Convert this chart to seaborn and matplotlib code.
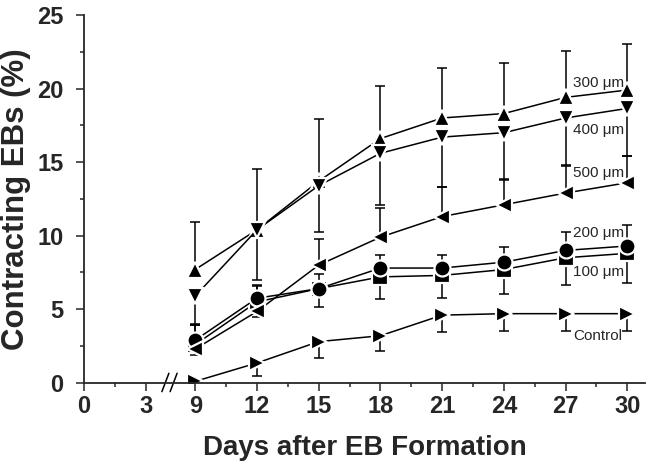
import pandas as pd
import matplotlib
matplotlib.use("Agg")
from matplotlib import pyplot as plt
from matplotlib import transforms
import seaborn as sns

days = [9, 12, 15, 18, 21, 24, 27, 30]
series_names = ["100 μm", "200 μm", "300 μm", "400 μm", "500 μm", "Control"]

um100 = [2.6, 5.5, 6.4, 7.2, 7.3, 7.7, 8.5, 8.8]
um200 = [2.9, 5.75, 6.4, 7.8, 7.8, 8.2, 9.0, 9.3]
um300 = [7.7, 10.4, 13.7, 16.6, 18.0, 18.3, 19.4, 19.9]
um400 = [5.9, 10.4, 13.4, 15.6, 16.7, 17.0, 18.0, 18.65]
um500 = [2.3, 4.85, 8.0, 9.9, 11.3, 12.1, 12.9, 13.6]
control = [0.1, 1.35, 2.8, 3.2, 4.6, 4.7, 4.7, 4.7]

# one-sided error bars (as in the original figure)
err100_low = [0.7, 1.0, 1.25, 1.5, 1.55, 1.65, 1.85, 2.0]
err200_up = [1.0, 0.85, 1.0, 0.9, 0.9, 1.0, 1.25, 1.4]
err300_up = [3.2, 4.1, 4.2, 3.6, 3.4, 3.45, 3.15, 3.1]
err400_low = [1.9, 3.4, 3.15, 3.5, 3.4, 3.2, 3.2, 3.25]
err500_up = [1.6, 1.8, 1.75, 2.0, 2.0, 1.75, 1.85, 1.8]
control_low = [0.0, 0.9, 1.1, 1.05, 1.15, 1.15, 1.15, 1.15]

tick_days = [0, 3, 9, 12, 15, 18, 21, 24, 27, 30]
minor_days = [1.5, 10.5, 13.5, 16.5, 19.5, 22.5, 25.5, 28.5]

label_y = {"300 μm": 20.4, "400 μm": 17.2, "500 μm": 14.25,
           "200 μm": 10.2, "100 μm": 7.5, "Control": 3.2}

BREAK_SHIFT = 3.6  # days 3..9 squeezed together on the axis


def axis_pos(d):
    return d if d <= 3 else d - BREAK_SHIFT


def main():
    sns.set_style("ticks")
    plt.rcParams['font.family'] = ['Liberation Sans Narrow', 'Liberation Sans', 'DejaVu Sans']

    values = [um100, um200, um300, um400, um500, control]
    rows = []
    for name, vals in zip(series_names, values):
        for d, v in zip(days, vals):
            rows.append({"day": axis_pos(d), "pct": v, "group": name})
    df = pd.DataFrame(rows)

    fig = plt.figure(figsize=(6.52, 4.68), dpi=100)
    ax = fig.add_axes([0.129, 0.182, 0.86, 0.786])

    errs = [(err100_low, "low"), (err200_up, "up"), (err300_up, "up"),
            (err400_low, "low"), (err500_up, "up"), (control_low, "low")]
    xs = [axis_pos(d) for d in days]
    for vals, (e, side) in zip(values, errs):
        zeros = [0] * len(e)
        yerr = [e, zeros] if side == "low" else [zeros, e]
        ax.errorbar(xs, vals, yerr=yerr, fmt="none", ecolor="black",
                    elinewidth=1.1, capsize=3.3, capthick=1.1, zorder=1)

    markers = {"100 μm": "s", "200 μm": "o", "300 μm": "^",
               "400 μm": "v", "500 μm": "<", "Control": ">"}
    sns.lineplot(data=df, x="day", y="pct", hue="group", style="group",
                 markers=markers, dashes=False, palette=["black"] * 6,
                 markersize=11.5, markeredgecolor="white", markeredgewidth=1.6,
                 linewidth=1.1, legend=False, ax=ax, zorder=2)

    for name in series_names:
        ax.text(axis_pos(27.35), label_y[name], name, fontsize=11,
                family=['Liberation Sans', 'DejaVu Sans'], va="center", ha="left")

    ax.set_xlim(0, axis_pos(30.85))
    ax.set_ylim(0, 25)
    ax.set_xticks([axis_pos(d) for d in tick_days])
    ax.set_xticklabels([str(d) for d in tick_days])
    ax.set_xticks([axis_pos(d) for d in minor_days], minor=True)
    ax.set_yticks([0, 5, 10, 15, 20, 25])
    ax.set_yticks([2.5, 7.5, 12.5, 17.5, 22.5], minor=True)
    ax.tick_params(axis="both", which="major", length=6, width=1.1,
                   labelsize=17, direction="out")
    ax.tick_params(axis="y", which="major", pad=9)
    ax.tick_params(axis="x", which="major", pad=3)
    ax.tick_params(axis="both", which="minor", length=3, width=1.1, direction="out")
    for lab in ax.get_xticklabels() + ax.get_yticklabels():
        lab.set_fontweight("bold")

    sns.despine(ax=ax)
    for sp in ["left", "bottom"]:
        ax.spines[sp].set_linewidth(1.3)

    # axis break marks
    trans = transforms.blended_transform_factory(ax.transData, ax.transAxes)
    for p in [3.95, 4.35]:
        ax.plot([p - 0.17, p + 0.17], [-0.024, 0.026], color="black",
                lw=1.1, transform=trans, clip_on=False)

    ax.set_xlabel("Days after EB Formation", fontsize=20, fontweight="bold", labelpad=12)
    ax.set_ylabel("Contracting EBs (%)", fontsize=22.5, fontweight="bold", labelpad=4)

    fig.savefig("out.png", dpi=100)


if __name__ == "__main__":
    main()
